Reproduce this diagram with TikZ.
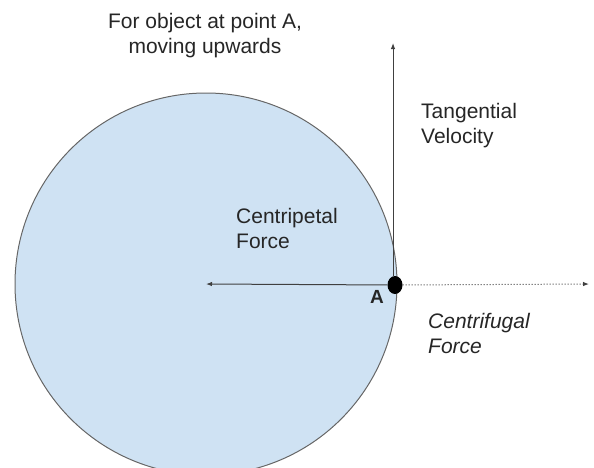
\documentclass[tikz,border=0pt]{standalone}
\usepackage{fontspec}
\setmainfont{Liberation Sans}
\usetikzlibrary{arrows.meta,shapes.geometric}
\definecolor{discblue}{HTML}{CFE2F3}

\begin{document}
\begin{tikzpicture}[x=1pt, y=1pt, yscale=-1,
  lbl/.style={anchor=base west, inner sep=0pt, align=left, text=black!85,
    font=\fontsize{21}{25}\selectfont},
  arr/.style={draw=black!75, line width=1pt, -{Latex[length=6pt,width=4.5pt]}},
  dot/.style={ellipse, fill=black, inner sep=0pt, minimum width=15pt, minimum height=18pt}]
\useasboundingbox (0,0) rectangle (594,467);
\clip (0,0) rectangle (594,467);
\coordinate (O) at (206,284);
\fill[discblue, draw=black!60, line width=1pt] (O) circle (191);
\coordinate (vtip) at (393,43);
\coordinate (htip) at (589,284);
\node[dot] (A) at (395,285) {};
\draw[arr] (A) -- (O);
\draw[arr] (A.north -| vtip) -- (vtip);
\draw[arr, dotted] (A) -- (htip);
\node[lbl, anchor=base, align=center] (title) at (205,53) {For object at point A,\\moving upwards};
\node[lbl] (tanlbl) at (421,143) {Tangential\\Velocity};
\node[lbl] (cplbl) at (236,248) {Centripetal\\Force};
\node[lbl, font=\itshape\fontsize{21}{25}\selectfont] (cflbl) at (428,353) {Centrifugal\\Force};
\node[lbl, font=\bfseries\fontsize{19}{19}\selectfont] (Albl) at (370,303) {A};
\end{tikzpicture}
\end{document}
